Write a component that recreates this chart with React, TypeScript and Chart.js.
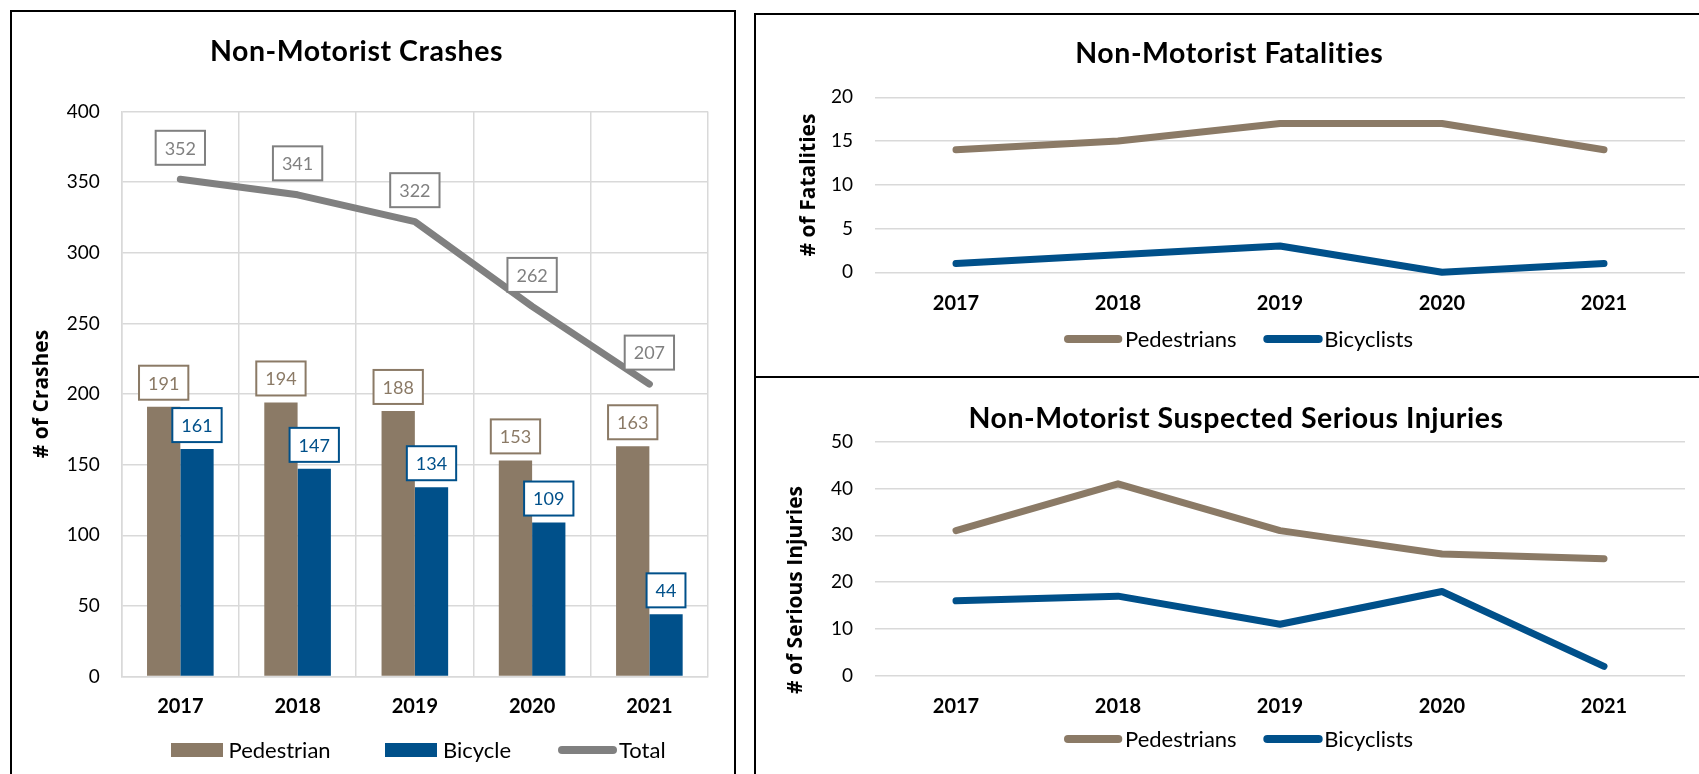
import React, { useEffect, useRef } from "react";
import { Chart, registerables } from "chart.js";

Chart.register(...registerables);

// ---------------- data ----------------
const years = ["2017", "2018", "2019", "2020", "2021"];

const crashPedestrian = [191, 194, 188, 153, 163];
const crashBicycle = [161, 147, 134, 109, 44];
const crashTotal = [352, 341, 322, 262, 207];
const crashTicks = [0, 50, 100, 150, 200, 250, 300, 350, 400];

const fatalPedestrians = [14, 15, 17, 17, 14];
const fatalBicyclists = [1, 2, 3, 0, 1];
const fatalTicks = [0, 5, 10, 15, 20];

const injuryPedestrians = [31, 41, 31, 26, 25];
const injuryBicyclists = [16, 17, 11, 18, 2];
const injuryTicks = [0, 10, 20, 30, 40, 50];

// ---------------- style ----------------
const BROWN = "#8B7A66";
const BLUE = "#00508A";
const GRAY = "#808080";
const GRID = "#D9D9D9";
const TEXT = "#000000";
const SANS = "Lato, 'Open Sans', sans-serif";
const AXIS_TITLE = "'Open Sans', 'DejaVu Sans', sans-serif";

const TITLE_FONT = `bold 28.5px ${SANS}`;
const TITLE_SPACING = "0.55px";
const YTITLE_FONT = `bold 21px ${AXIS_TITLE}`;
const LEGEND_FONT = `22px ${SANS}`;
const LABEL_FONT = `18px ${SANS}`;

const tickFont = { family: SANS, size: 19 };
const xFont = { family: SANS, size: 20, weight: "bold" as const, lineHeight: 1 };

// ---------------- plugin: titles, legends, data labels ----------------
const decorPlugin = {
  id: "decor",
  afterDatasetsDraw(chart: any, _a: any, o: any) {
    const ctx = chart.ctx;
    (o.dataLabels || []).forEach((cfg: any) => {
      const meta = chart.getDatasetMeta(cfg.datasetIndex);
      const values = chart.data.datasets[cfg.datasetIndex].data;
      meta.data.forEach((el: any, i: number) => {
        const text = String(values[i]);
        ctx.save();
        ctx.font = LABEL_FONT;
        const w = ctx.measureText(text).width + cfg.padX * 2;
        const h = cfg.height;
        const bottom = el.y - cfg.gap;
        const left = el.x - w / 2;
        ctx.fillStyle = "#ffffff";
        ctx.fillRect(left, bottom - h, w, h);
        ctx.lineWidth = cfg.borderWidth;
        ctx.strokeStyle = cfg.color;
        ctx.strokeRect(left, bottom - h, w, h);
        ctx.fillStyle = cfg.color;
        ctx.textAlign = "center";
        ctx.textBaseline = "middle";
        ctx.fillText(text, el.x, bottom - h / 2 + cfg.textDy);
        ctx.restore();
      });
    });
  },
  afterDraw(chart: any, _a: any, o: any) {
    const ctx = chart.ctx;
    const ox = o.origin[0];
    const oy = o.origin[1];
    if (o.title) {
      ctx.save();
      ctx.font = TITLE_FONT;
      try { (ctx as any).letterSpacing = TITLE_SPACING; } catch (e) { /* ignore */ }
      ctx.fillStyle = TEXT;
      ctx.textAlign = "center";
      ctx.textBaseline = "alphabetic";
      ctx.fillText(o.title.text, o.title.x - ox, o.title.y - oy);
      ctx.restore();
    }
    if (o.yTitle) {
      ctx.save();
      ctx.translate(o.yTitle.x - ox, o.yTitle.y - oy);
      ctx.rotate(-Math.PI / 2);
      ctx.font = YTITLE_FONT;
      ctx.fillStyle = TEXT;
      ctx.textAlign = "center";
      ctx.textBaseline = "alphabetic";
      ctx.fillText(o.yTitle.text, 0, 0);
      ctx.restore();
    }
    if (o.legend) {
      const L = o.legend;
      L.items.forEach((it: any) => {
        const ds = chart.data.datasets[it.datasetIndex];
        const y = L.y - oy;
        const sx = it.sx - ox;
        ctx.save();
        if (it.kind === "box") {
          ctx.fillStyle = ds.backgroundColor;
          ctx.fillRect(sx, y - L.boxH / 2, it.sw, L.boxH);
        } else {
          ctx.strokeStyle = ds.borderColor;
          ctx.lineWidth = L.lineW;
          ctx.lineCap = "round";
          ctx.beginPath();
          ctx.moveTo(sx + L.lineW / 2, y);
          ctx.lineTo(sx + it.sw - L.lineW / 2, y);
          ctx.stroke();
        }
        ctx.font = LEGEND_FONT;
        ctx.fillStyle = TEXT;
        ctx.textAlign = "left";
        ctx.textBaseline = "middle";
        ctx.fillText(ds.label, it.tx - ox, y + L.textDy);
        ctx.restore();
      });
    }
  },
};

const basePlugins = {
  legend: { display: false },
  title: { display: false },
  tooltip: { enabled: false },
};

// ---------------- configs ----------------
function crashConfig(): any {
  return {
    type: "bar",
    data: {
      labels: years,
      datasets: [
        { label: "Pedestrian", data: crashPedestrian, backgroundColor: BROWN, borderWidth: 0, order: 2 },
        { label: "Bicycle", data: crashBicycle, backgroundColor: BLUE, borderWidth: 0, order: 2 },
        {
          type: "line",
          label: "Total",
          data: crashTotal,
          borderColor: GRAY,
          backgroundColor: GRAY,
          borderWidth: 7,
          pointRadius: 0,
          borderCapStyle: "round",
          borderJoinStyle: "round",
          clip: false,
          order: 1,
        },
      ],
    },
    options: {
      responsive: false,
      animation: false,
      events: [],
      layout: { padding: { left: 0, top: 99.5, right: 26, bottom: 57.5 } },
      datasets: { bar: { categoryPercentage: 0.568, barPercentage: 1 } },
      scales: {
        x: {
          offset: true,
          grid: { display: true, offset: true, color: GRID, lineWidth: 1.5, drawTicks: false },
          border: { display: true, color: GRID, width: 1.5 },
          ticks: { padding: 20.5, color: TEXT, font: xFont },
          afterFit: (s: any) => { s.height = 40; },
        },
        y: {
          min: 0,
          max: 400,
          afterBuildTicks: (s: any) => { s.ticks = crashTicks.map((v) => ({ value: v })); },
          afterFit: (s: any) => { s.width = 109.7; },
          grid: { color: GRID, lineWidth: 1.5, drawTicks: false },
          border: { display: true, color: GRID, width: 1.5 },
          ticks: { padding: 22, color: TEXT, font: tickFont },
        },
      },
      plugins: {
        ...basePlugins,
        decor: {
          origin: [12, 12],
          title: { text: "Non-Motorist Crashes", x: 356.5, y: 61 },
          yTitle: { text: "# of Crashes", x: 48, y: 394 },
          legend: {
            y: 750,
            boxH: 14,
            lineW: 8,
            textDy: 1,
            items: [
              { datasetIndex: 0, kind: "box", sx: 171, sw: 52, tx: 228.5 },
              { datasetIndex: 1, kind: "box", sx: 385, sw: 52, tx: 443 },
              { datasetIndex: 2, kind: "line", sx: 558, sw: 59, tx: 619 },
            ],
          },
          dataLabels: [
            { datasetIndex: 0, color: BROWN, gap: 7, height: 34, padX: 9, borderWidth: 2, textDy: 1 },
            { datasetIndex: 1, color: BLUE, gap: 7, height: 34, padX: 9, borderWidth: 2, textDy: 1 },
            { datasetIndex: 2, color: GRAY, gap: 14.5, height: 34, padX: 9, borderWidth: 2, textDy: 1 },
          ],
        },
      },
    },
    plugins: [decorPlugin],
  };
}

function lineConfig(
  ped: number[],
  bike: number[],
  ticks: number[],
  padding: any,
  decor: any
): any {
  const lineDs = (label: string, data: number[], color: string) => ({
    label,
    data,
    borderColor: color,
    backgroundColor: color,
    borderWidth: 7,
    pointRadius: 0,
    borderCapStyle: "round",
    borderJoinStyle: "round",
    clip: false,
  });
  return {
    type: "line",
    data: {
      labels: years,
      datasets: [lineDs("Pedestrians", ped, BROWN), lineDs("Bicyclists", bike, BLUE)],
    },
    options: {
      responsive: false,
      animation: false,
      events: [],
      layout: { padding },
      scales: {
        x: {
          offset: true,
          grid: { display: false, drawTicks: false },
          border: { display: false },
          ticks: { padding: 21, color: TEXT, font: xFont },
          afterFit: (s: any) => { s.height = 40; },
        },
        y: {
          min: ticks[0],
          max: ticks[ticks.length - 1],
          afterBuildTicks: (s: any) => { s.ticks = ticks.map((v) => ({ value: v })); },
          afterFit: (s: any) => { s.width = 119; },
          grid: { color: GRID, lineWidth: 1.5, drawTicks: false },
          border: { display: false },
          ticks: { padding: 22, color: TEXT, font: tickFont },
        },
      },
      plugins: { ...basePlugins, decor },
    },
    plugins: [decorPlugin],
  };
}

const rightLegendItems = [
  { datasetIndex: 0, kind: "line", sx: 1064, sw: 58.3, tx: 1125 },
  { datasetIndex: 1, kind: "line", sx: 1263.3, sw: 59.4, tx: 1324.3 },
];

function fatalConfig(): any {
  return lineConfig(
    fatalPedestrians,
    fatalBicyclists,
    fatalTicks,
    { left: 0, top: 82.3, right: 14, bottom: 63.7 },
    {
      origin: [756, 15],
      title: { text: "Non-Motorist Fatalities", x: 1229.3, y: 63.3 },
      yTitle: { text: "# of Fatalities", x: 815, y: 185 },
      legend: { y: 339, boxH: 14, lineW: 8, textDy: 1, items: rightLegendItems },
    }
  );
}

function injuryConfig(): any {
  return lineConfig(
    injuryPedestrians,
    injuryBicyclists,
    injuryTicks,
    { left: 0, top: 63.7, right: 14, bottom: 58.3 },
    {
      origin: [756, 378],
      title: { text: "Non-Motorist Suspected Serious Injuries", x: 1236, y: 428 },
      yTitle: { text: "# of Serious Injuries", x: 802, y: 590 },
      legend: { y: 739, boxH: 14, lineW: 8, textDy: 1, items: rightLegendItems },
    }
  );
}

// ---------------- components ----------------
function ChartCanvas({ make, width, height }: { make: () => any; width: number; height: number }) {
  const ref = useRef<HTMLCanvasElement | null>(null);
  useEffect(() => {
    if (!ref.current) return;
    const chart = new Chart(ref.current, make());
    return () => chart.destroy();
  }, [make]);
  return <canvas ref={ref} width={width} height={height} style={{ display: "block" }} />;
}

const panelBase: React.CSSProperties = {
  position: "absolute",
  border: "2px solid #000",
  boxSizing: "border-box",
  background: "#fff",
  overflow: "hidden",
};

export default function App() {
  return (
    <div
      style={{
        position: "fixed",
        left: 0,
        top: 0,
        width: 1699,
        height: 774,
        background: "#fff",
        overflow: "hidden",
      }}
    >
      <div style={{ ...panelBase, left: 10, top: 10, width: 726, height: 800 }}>
        <ChartCanvas make={crashConfig} width={722} height={762} />
      </div>
      <div style={{ ...panelBase, left: 754, top: 13, width: 980, height: 365 }}>
        <ChartCanvas make={fatalConfig} width={943} height={361} />
      </div>
      <div style={{ ...panelBase, left: 754, top: 376, width: 980, height: 420 }}>
        <ChartCanvas make={injuryConfig} width={943} height={396} />
      </div>
    </div>
  );
}
